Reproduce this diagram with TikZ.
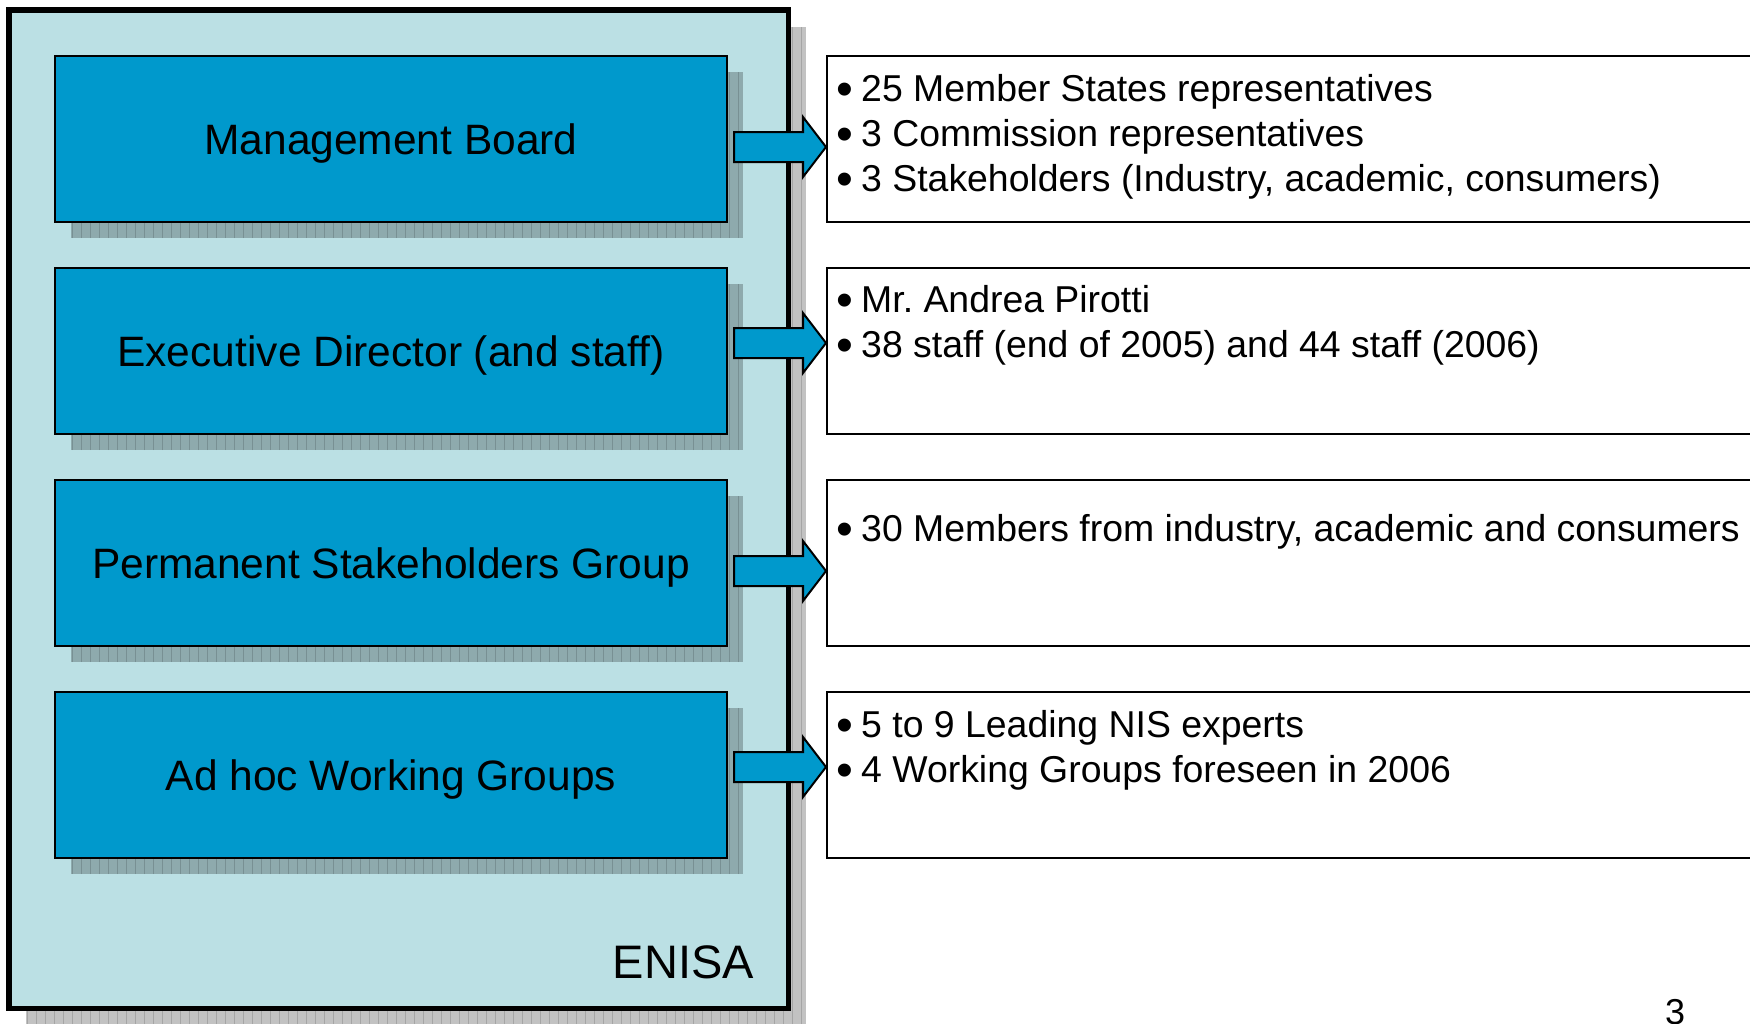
\documentclass[tikz,border=0pt]{standalone}
\usepackage{fontspec}
\setmainfont{Liberation Sans}
\usetikzlibrary{calc}
\frenchspacing
\definecolor{enisabg}{RGB}{187,224,228}
\definecolor{boxblue}{RGB}{0,153,204}
\newcommand\bul{\makebox[25pt][l]{\raisebox{-4.3pt}{\fontsize{48}{48}\selectfont •}}}
\newcommand\shadowrect[2]{%
  \fill[shadowfill] #1 rectangle #2;
  \begin{scope}\clip #1 rectangle #2;
    \draw[shadowgrid] #1 grid #2;
  \end{scope}}
\newcommand\blockarrow[3]{%
  \draw[barrow] ($(#1.east)+(6,#3-15)$) -- ($(#2.west)+(-23,#3-15)$)
    -- ($(#2.west)+(-23,#3-30)$) -- ($(#2.west)+(0,#3)$)
    -- ($(#2.west)+(-23,#3+30)$) -- ($(#2.west)+(-23,#3+15)$)
    -- ($(#1.east)+(6,#3+15)$) -- cycle;}
\begin{document}
\begin{tikzpicture}[x=1pt,y=-1pt,
  blueblock/.style={draw=black, line width=2pt, fill=boxblue, minimum width=672pt,
    minimum height=166pt, inner sep=0pt, text height=30.4pt, text depth=0pt,
    font=\fontsize{42.5}{50}\selectfont},
  infobox/.style={draw=black, line width=1.6pt, fill=white, minimum width=960pt,
    minimum height=166pt, inner sep=0pt, anchor=west},
  bullets/.style={anchor=base west, inner sep=0pt, font=\fontsize{37.4}{45}\selectfont},
  barrow/.style={draw=black, line width=2pt, fill=boxblue, line join=miter},
  shadowfill/.style={fill=black, fill opacity=0.24},
  shadowgrid/.style={draw=black, draw opacity=0.15, line width=0.8pt, step=9},
  outerbox/.style={draw=black, line width=5.5pt, fill=enisabg, line join=miter}]
\useasboundingbox (0,0) rectangle (1750,1023);
\clip (0,0) rectangle (1750,1023);
\fill[white] (0,0) rectangle (1750,1023);
% ENISA container
\shadowrect{(26,27)}{(806,1030)}
\draw[outerbox] (9,10) rectangle (788.5,1008.5);
\node[anchor=base east, inner sep=0pt, font=\fontsize{47}{55}\selectfont] (enisa) at (754,978) {ENISA};
% block shadows
\foreach \yc in {139,351,563,775} {\shadowrect{(71,\yc-67)}{(743,\yc+99)}}
% blue blocks
\node[blueblock] (mb)  at (391,139) {Management Board};
\node[blueblock] (ed)  at (391,351) {Executive Director (and staff)};
\node[blueblock] (psg) at (391,563) {Permanent Stakeholders Group};
\node[blueblock] (awg) at (391,775) {Ad hoc Working Groups};
% info boxes
\node[infobox] (d1) at (826,139) {};
\node[infobox] (d2) at (826,351) {};
\node[infobox] (d3) at (826,563) {};
\node[infobox] (d4) at (826,775) {};
% arrows
\blockarrow{mb}{d1}{8}
\blockarrow{ed}{d2}{-8}
\blockarrow{psg}{d3}{8}
\blockarrow{awg}{d4}{-8}
% texts
\node[bullets] (t1) at (836,101) {\begin{tabular}[t]{@{}l@{}}\bul 25 Member States representatives\\ \bul 3 Commission representatives\\ \bul 3 Stakeholders (Industry, academic, consumers)\end{tabular}};
\node[bullets] (t2) at (836,312) {\begin{tabular}[t]{@{}l@{}}\bul Mr. Andrea Pirotti\\ \bul 38 staff (end of 2005) and 44 staff (2006)\end{tabular}};
\node[bullets] (t3) at (836,541) {\begin{tabular}[t]{@{}l@{}}\bul 30 Members from industry, academic and consumers\end{tabular}};
\node[bullets] (t4) at (836,737) {\begin{tabular}[t]{@{}l@{}}\bul 5 to 9 Leading NIS experts\\ \bul 4 Working Groups foreseen in 2006\end{tabular}};
\node[anchor=base, inner sep=0pt, font=\fontsize{36}{45}\selectfont] (pg) at (1675,1024) {3};
\end{tikzpicture}
\end{document}
